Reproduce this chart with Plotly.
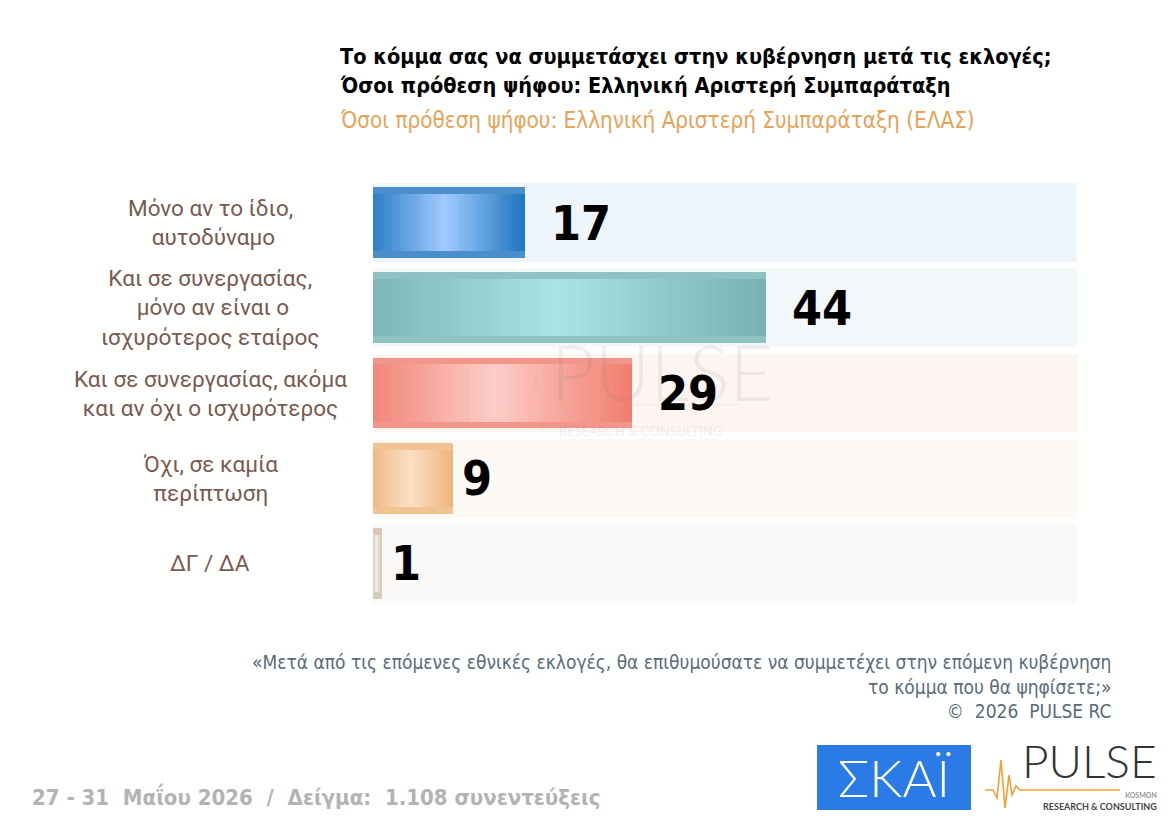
import plotly.graph_objects as go

# ---------------- data ----------------
categories = [
    "Μόνο αν το ίδιο,<br> αυτοδύναμο",
    "Και σε συνεργασίας,<br> μόνο αν είναι ο<br>ισχυρότερος εταίρος",
    "Και σε συνεργασίας, ακόμα<br>και αν όχι ο ισχυρότερος",
    "Όχι, σε καμία<br>περίπτωση",
    "ΔΓ / ΔΑ",
]
values = [17, 44, 29, 9, 1]

dark_colors = ["#1f75c0", "#76b2b2", "#f07d6e", "#edb47a", "#d6c7b7"]
light_colors = ["#a0cbff", "#aae4e4", "#fdcdc8", "#fde0c6", "#f3ece4"]
edge_colors = ["#4a8fcc", "#8fc3c3", "#f2968b", "#f1c392", "#d8cabb"]
row_bg = ["#eef5fb", "#f2f7fa", "#fdf5f2", "#fdf9f4", "#fbf9f7"]

title_l1 = "Το κόμμα σας να συμμετάσχει στην κυβέρνηση μετά τις εκλογές;"
title_l2 = "Όσοι πρόθεση ψήφου: Ελληνική Αριστερή Συμπαράταξη"
subtitle = "Όσοι πρόθεση ψήφου: Ελληνική Αριστερή Συμπαράταξη (ΕΛΑΣ)"
question = ("«Μετά από τις επόμενες εθνικές εκλογές, θα επιθυμούσατε να συμμετέχει στην επόμενη κυβέρνηση"
            "<br>το κόμμα που θα ψηφίσετε;»<br>©  2026  PULSE RC")
footer_left = "27 - 31  Μαΐου 2026  /  Δείγμα:  1.108 συνεντεύξεις"

X_MAX = 78.8

# ---------------- layout helpers ----------------
W, H = 1174, 820
L, R, T, B = 373, 97, 180, 214
PW, PH = W - L - R, H - T - B


def px(xp):
    return (xp - L) / PW


def py(yp):
    return 1 - (yp - T) / PH


def hex2rgb(h):
    h = h.lstrip("#")
    return tuple(int(h[i:i + 2], 16) for i in (0, 2, 4))


def lerp(c1, c2, f):
    a, b = hex2rgb(c1), hex2rgb(c2)
    return "rgb(%d,%d,%d)" % tuple(round(a[i] + (b[i] - a[i]) * f) for i in range(3))


COND = "Liberation Sans Narrow, DejaVu Sans Condensed, Arial Narrow, sans-serif"


def cfont(size, color, weight="normal"):
    return dict(family=COND, size=size, color=color, weight=weight)


n = len(values)
ypos = list(range(n))

fig = go.Figure()

# row backgrounds
fig.add_trace(go.Bar(orientation="h", y=ypos, x=[X_MAX] * n, width=0.926,
                     marker=dict(color=row_bg, line=dict(width=0)), hoverinfo="skip",
                     showlegend=False))
# bar edge strips
fig.add_trace(go.Bar(orientation="h", y=ypos, x=values, width=0.83,
                     marker=dict(color=edge_colors, line=dict(width=0)),
                     hovertemplate="%{x}<extra></extra>", showlegend=False))
# gradient body
NSEG = 40
PEAK = 0.47
for k in range(NSEG):
    t = (k + 0.5) / NSEG
    f = 1 - abs(t - PEAK) / max(PEAK, 1 - PEAK)
    cols = [lerp(dark_colors[i], light_colors[i], f) for i in range(n)]
    fig.add_trace(go.Bar(orientation="h", y=ypos,
                         x=[v / NSEG for v in values],
                         base=[v * k / NSEG for v in values],
                         width=0.67,
                         marker=dict(color=cols, line=dict(width=0)),
                         hoverinfo="skip", showlegend=False))

annotations = []
# watermark (drawn first)
annotations += [
    dict(x=px(662), y=py(371), xref="paper", yref="paper", text="PULSE",
         showarrow=False, xanchor="center", yanchor="middle", borderpad=0,
         font=dict(family="Lato, sans-serif", size=76, color="rgba(120,120,120,0.12)", weight=300)),
    dict(x=px(640), y=py(431), xref="paper", yref="paper", text="RESEARCH &amp; CONSULTING",
         showarrow=False, xanchor="center", yanchor="middle", borderpad=0,
         font=dict(family="Lato, sans-serif", size=13, color="rgba(120,120,120,0.12)")),
]
# value labels
for i, v in enumerate(values):
    annotations.append(dict(x=v, y=i, xref="x", yref="y", text="<b>%d</b>" % v,
                            showarrow=False, xanchor="left", yanchor="middle",
                            xshift=8 + 17 * (len(str(v)) - 1), yshift=0, borderpad=0,
                            font=cfont(48, "#000000", "bold")))
# category labels
for i, c in enumerate(categories):
    annotations.append(dict(x=px(210), y=i, xref="paper", yref="y", text=c,
                            showarrow=False, xanchor="center", yanchor="middle",
                            align="center",
                            font=dict(family="Roboto, sans-serif", size=22.5, color="#7a5a52")))
# titles and footers
annotations += [
    dict(x=px(338), y=py(57), xref="paper", yref="paper", text="<b>%s</b>" % title_l1,
         showarrow=False, xanchor="left", yanchor="middle",
         font=cfont(21.5, "#000000", "bold")),
    dict(x=px(338), y=py(86), xref="paper", yref="paper", text="<b>%s</b>" % title_l2,
         showarrow=False, xanchor="left", yanchor="middle",
         font=cfont(21.5, "#000000", "bold")),
    dict(x=px(338), y=py(120), xref="paper", yref="paper", text=subtitle,
         showarrow=False, xanchor="left", yanchor="middle",
         font=cfont(22.3, "#e9a257")),
    dict(x=px(1113), y=py(686), xref="paper", yref="paper", text=question,
         showarrow=False, xanchor="right", yanchor="middle", align="right",
         font=cfont(19, "#5a6b7c")),
    dict(x=px(30), y=py(796), xref="paper", yref="paper", text="<b>%s</b>" % footer_left,
         showarrow=False, xanchor="left", yanchor="middle",
         font=cfont(22, "#b3b3b3", "bold")),
    # SKAI logo text
    dict(x=px(894), y=py(777), xref="paper", yref="paper", text="ΣΚΑΪ",
         showarrow=False, xanchor="center", yanchor="middle", borderpad=0,
         font=dict(family="Lato, sans-serif", size=52, color="#ffffff", weight=300)),
    # PULSE logo
    dict(x=px(1089), y=py(789), xref="paper", yref="paper", text="PULSE",
         showarrow=False, xanchor="center", yanchor="bottom", borderpad=0,
         font=dict(family="Lato, sans-serif", size=46, color="#333333", weight=300)),
    dict(x=px(1158), y=py(790), xref="paper", yref="paper",
         text="<b><span style='font-size:7px;color:#999999'>KOSMON</span><br>RESEARCH &amp; CONSULTING</b>",
         showarrow=False, xanchor="right", yanchor="top", align="right", borderpad=0,
         font=dict(family="Lato, sans-serif", size=9, color="#444444")),
]

shapes = [
    dict(type="rect", xref="paper", yref="paper", x0=px(817), x1=px(971), y0=py(810), y1=py(745),
         fillcolor="#2b7be6", line=dict(width=0), layer="below"),
    # pulse line
    dict(type="path", xref="paper", yref="paper",
         path="M %f %f L %f %f L %f %f L %f %f L %f %f L %f %f L %f %f L %f %f L %f %f L %f %f" % (
             px(985), py(790), px(993), py(790), px(997), py(798), px(1001), py(760),
             px(1005), py(808), px(1009), py(775), px(1012), py(795), px(1016), py(786),
             px(1020), py(790), px(1120), py(790)),
         line=dict(color="#f0a030", width=1.6)),
    # watermark pulse line
    dict(type="path", xref="paper", yref="paper",
         path="M %f %f L %f %f L %f %f L %f %f L %f %f L %f %f" % (
             px(503), py(410), px(530), py(410), px(536), py(372), px(543), py(430),
             px(550), py(405), px(740), py(405)),
         line=dict(color="rgba(240,160,80,0.15)", width=1.2)),
]

fig.update_layout(
    width=W, height=H,
    margin=dict(l=L, r=R, t=T, b=B, pad=0),
    paper_bgcolor="#ffffff", plot_bgcolor="#ffffff",
    barmode="overlay", bargap=0,
    showlegend=False,
    xaxis=dict(range=[0, X_MAX], visible=False, fixedrange=True),
    yaxis=dict(range=[n - 0.5, -0.5], visible=False, fixedrange=True),
    annotations=annotations,
    shapes=shapes,
)

fig.write_html("out.html")
